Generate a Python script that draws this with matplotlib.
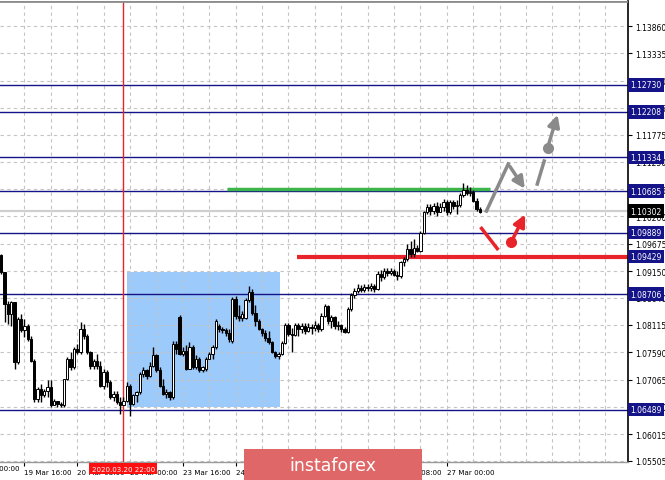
import matplotlib
matplotlib.use("Agg")
import matplotlib.pyplot as plt
import numpy as np

# EURUSD H1, bar 0 = 19 Mar 09:00
opens = [1.0945, 1.0913, 1.0852, 1.0833, 1.0855, 1.0740, 1.0823, 1.0801, 1.0810, 1.0785,
         1.0743, 1.0669, 1.0689, 1.0676, 1.0685, 1.0692, 1.0657, 1.0666, 1.0660, 1.0657,
         1.0708, 1.0746, 1.0730, 1.0765, 1.0759, 1.0804, 1.0791, 1.0759, 1.0733, 1.0743,
         1.0733, 1.0695, 1.0721, 1.0701, 1.0673, 1.0679, 1.0663, 1.0657, 1.0666, 1.0695,
         1.0660, 1.0676, 1.0682, 1.0717, 1.0724, 1.0714, 1.0733, 1.0753, 1.0724, 1.0695,
         1.0679, 1.0682, 1.0673, 1.0775, 1.0826, 1.0756, 1.0762, 1.0727, 1.0769, 1.0730,
         1.0746, 1.0724, 1.0727, 1.0746, 1.0756, 1.0769, 1.0809, 1.0803, 1.0801, 1.0796,
         1.0781, 1.0862, 1.0828, 1.0824, 1.0824, 1.0860, 1.0874, 1.0835, 1.0820, 1.0804,
         1.0796, 1.0786, 1.0778, 1.0760, 1.0751, 1.0756, 1.0777, 1.0812, 1.0794, 1.0792,
         1.0811, 1.0803, 1.0810, 1.0800, 1.0808, 1.0805, 1.0811, 1.0803, 1.0829, 1.0847,
         1.0819, 1.0826, 1.0810, 1.0811, 1.0803, 1.0797, 1.0842, 1.0869, 1.0877, 1.0883,
         1.0879, 1.0885, 1.0882, 1.0887, 1.0880, 1.0909, 1.0903, 1.0915, 1.0911, 1.0915,
         1.0907, 1.0905, 1.0932, 1.0939, 1.0957, 1.0948, 1.0960, 1.0954, 1.0989, 1.1028,
         1.1039, 1.1031, 1.1040, 1.1029, 1.1039, 1.1047, 1.1028, 1.1048, 1.1040, 1.1042,
         1.1061, 1.1071, 1.1065, 1.1067, 1.1050, 1.1035]
highs = [1.0948, 1.0913, 1.0858, 1.0858, 1.0855, 1.0826, 1.0833, 1.0823, 1.0814, 1.0791,
         1.0746, 1.0692, 1.0698, 1.0689, 1.0705, 1.0705, 1.0669, 1.0666, 1.0664, 1.0708,
         1.0749, 1.0759, 1.0769, 1.0775, 1.0817, 1.0814, 1.0794, 1.0762, 1.0746, 1.0756,
         1.0743, 1.0727, 1.0724, 1.0705, 1.0685, 1.0685, 1.0673, 1.0673, 1.0701, 1.0698,
         1.0679, 1.0685, 1.0721, 1.0730, 1.0727, 1.0740, 1.0769, 1.0756, 1.0730, 1.0708,
         1.0689, 1.0685, 1.0781, 1.0780, 1.0830, 1.0769, 1.0772, 1.0778, 1.0772, 1.0753,
         1.0749, 1.0733, 1.0749, 1.0759, 1.0772, 1.0823, 1.0814, 1.0807, 1.0805, 1.0804,
         1.0865, 1.0868, 1.0849, 1.0839, 1.0863, 1.0887, 1.0880, 1.0849, 1.0823, 1.0805,
         1.0801, 1.0799, 1.0781, 1.0762, 1.0760, 1.0780, 1.0815, 1.0815, 1.0805, 1.0815,
         1.0815, 1.0816, 1.0815, 1.0816, 1.0813, 1.0819, 1.0815, 1.0835, 1.0851, 1.0849,
         1.0830, 1.0829, 1.0819, 1.0813, 1.0807, 1.0845, 1.0873, 1.0883, 1.0890, 1.0888,
         1.0890, 1.0890, 1.0892, 1.0890, 1.0915, 1.0917, 1.0920, 1.0920, 1.0921, 1.0919,
         1.0915, 1.0935, 1.0943, 1.0967, 1.0973, 1.0976, 1.0965, 1.0992, 1.1031, 1.1044,
         1.1044, 1.1046, 1.1047, 1.1046, 1.1053, 1.1052, 1.1052, 1.1052, 1.1052, 1.1065,
         1.1085, 1.1080, 1.1076, 1.1071, 1.1055, 1.1039]
lows = [1.0910, 1.0817, 1.0814, 1.0810, 1.0727, 1.0737, 1.0798, 1.0788, 1.0781, 1.0740,
        1.0663, 1.0663, 1.0663, 1.0673, 1.0673, 1.0653, 1.0657, 1.0653, 1.0653, 1.0653,
        1.0705, 1.0724, 1.0727, 1.0756, 1.0756, 1.0785, 1.0756, 1.0727, 1.0727, 1.0727,
        1.0692, 1.0689, 1.0692, 1.0669, 1.0666, 1.0660, 1.0640, 1.0657, 1.0663, 1.0637,
        1.0657, 1.0663, 1.0679, 1.0711, 1.0708, 1.0711, 1.0730, 1.0721, 1.0692, 1.0676,
        1.0671, 1.0668, 1.0669, 1.0756, 1.0753, 1.0751, 1.0724, 1.0726, 1.0727, 1.0727,
        1.0721, 1.0721, 1.0722, 1.0746, 1.0746, 1.0765, 1.0798, 1.0796, 1.0791, 1.0778,
        1.0777, 1.0823, 1.0820, 1.0820, 1.0822, 1.0856, 1.0831, 1.0810, 1.0801, 1.0791,
        1.0781, 1.0775, 1.0758, 1.0748, 1.0746, 1.0753, 1.0775, 1.0790, 1.0759, 1.0790,
        1.0791, 1.0796, 1.0794, 1.0797, 1.0794, 1.0800, 1.0798, 1.0800, 1.0826, 1.0813,
        1.0805, 1.0803, 1.0802, 1.0798, 1.0796, 1.0796, 1.0839, 1.0864, 1.0873, 1.0874,
        1.0875, 1.0877, 1.0877, 1.0875, 1.0879, 1.0896, 1.0899, 1.0906, 1.0907, 1.0905,
        1.0898, 1.0902, 1.0925, 1.0935, 1.0943, 1.0943, 1.0951, 1.0952, 1.0986, 1.1024,
        1.1023, 1.1024, 1.1021, 1.1028, 1.1031, 1.1023, 1.1024, 1.1035, 1.1024, 1.1039,
        1.1058, 1.1061, 1.1060, 1.1047, 1.1031, 1.1026]
closes = [1.0913, 1.0852, 1.0833, 1.0855, 1.0740, 1.0823, 1.0801, 1.0810, 1.0785, 1.0743,
          1.0669, 1.0689, 1.0676, 1.0685, 1.0692, 1.0657, 1.0666, 1.0660, 1.0657, 1.0708,
          1.0746, 1.0730, 1.0765, 1.0759, 1.0804, 1.0791, 1.0759, 1.0733, 1.0743, 1.0733,
          1.0695, 1.0721, 1.0701, 1.0673, 1.0679, 1.0663, 1.0657, 1.0666, 1.0695, 1.0660,
          1.0676, 1.0682, 1.0717, 1.0724, 1.0714, 1.0733, 1.0753, 1.0724, 1.0695, 1.0679,
          1.0682, 1.0673, 1.0775, 1.0765, 1.0756, 1.0762, 1.0727, 1.0769, 1.0730, 1.0746,
          1.0724, 1.0730, 1.0746, 1.0756, 1.0769, 1.0820, 1.0803, 1.0801, 1.0796, 1.0785,
          1.0862, 1.0828, 1.0824, 1.0833, 1.0860, 1.0874, 1.0835, 1.0820, 1.0804, 1.0796,
          1.0786, 1.0778, 1.0760, 1.0751, 1.0756, 1.0777, 1.0812, 1.0794, 1.0792, 1.0812,
          1.0803, 1.0810, 1.0800, 1.0808, 1.0805, 1.0811, 1.0803, 1.0829, 1.0847, 1.0819,
          1.0826, 1.0810, 1.0811, 1.0803, 1.0797, 1.0842, 1.0869, 1.0877, 1.0883, 1.0879,
          1.0885, 1.0882, 1.0887, 1.0880, 1.0909, 1.0903, 1.0915, 1.0911, 1.0915, 1.0907,
          1.0905, 1.0932, 1.0939, 1.0957, 1.0948, 1.0960, 1.0954, 1.0989, 1.1028, 1.1039,
          1.1031, 1.1040, 1.1029, 1.1039, 1.1047, 1.1028, 1.1048, 1.1040, 1.1042, 1.1061,
          1.1071, 1.1065, 1.1067, 1.1050, 1.1035, 1.1029]

levels = [1.12730, 1.12208, 1.11334, 1.10685, 1.09889, 1.08706, 1.06489]
support = 1.09429
resist_green = 1.1072
current = 1.10302

ytick_vals = [1.13860, 1.13335, 1.12810, 1.12285, 1.11775, 1.11250, 1.10725, 1.10200,
              1.09675, 1.09150, 1.08640, 1.08115, 1.07590, 1.07065, 1.06540, 1.06015, 1.05505]
xtick_pos = [7, 23, 39, 55, 71, 87, 103, 119, 135]
xtick_lab = ['19 Mar 16:00', '20 Mar 08:00', '23 Mar 00:00', '23 Mar 16:00',
             '24 Mar 08:00', '25 Mar 00:00', '25 Mar 16:00', '26 Mar 08:00', '27 Mar 00:00']
first_pos, first_lab = -9, '19 Mar 00:00'
cross_bar = 37
cross_label = '2020.03.20 22:00'

# drawings (bar index, price)
box_x = (38.2, 84.5)
box_y = (1.06537, 1.09132)
green_x = (68.5, 148.2)
red_x0 = 89.7
grey_path_x = [147.0, 153.6, 159.1]
grey_path_y = [1.10304, 1.11208, 1.10689]
grey_dash_x = [162.4, 164.5]
grey_dash_y = [1.10823, 1.11265]
grey_dot = (165.5, 1.11515)
grey_tip = (168.8, 1.12207)
red_seg_x = [145.2, 150.6]
red_seg_y = [1.09997, 1.09555]
red_dot = (154.5, 1.09709)
red_tip = (159.1, 1.10285)

navy = '#141488'
red = '#e8242a'
grey = '#8a8a8a'
FS = 5.5
FSX = 5.1
plt.rcParams['font.family'] = ['DejaVu Sans']

fig = plt.figure(figsize=(6.65, 4.81), dpi=100)
ax = fig.add_axes([0.0, 0.0374, 0.9444, 0.9584])

# grid
for v in ytick_vals:
    ax.axhline(v, color='#c4c4c4', lw=0.8, ls=(0, (3, 3)), zorder=0.5)
for b in np.arange(-1, 190, 8):
    ax.axvline(b, color='#c4c4c4', lw=0.8, ls=(0, (3, 3)), zorder=0.5)

ax.fill_between(box_x, box_y[0], box_y[1], color='#9ccafa', lw=0, zorder=0.3)

for lv in levels:
    ax.axhline(lv, color=navy, lw=1.0, zorder=1)
ax.axhline(current, color='#cfcfcf', lw=1.6, zorder=1)
ax.axvline(cross_bar, color=red, lw=1.0, zorder=1.2)
ax.plot([red_x0, 189.9], [support, support], color=red, lw=3, solid_capstyle='butt', zorder=2)
ax.plot(green_x, [resist_green] * 2, color='#3cb54a', lw=2.5, solid_capstyle='butt', zorder=2)

# candles
o = np.array(opens)
h = np.array(highs)
l = np.array(lows)
c = np.array(closes)
idx = np.arange(len(c))
ax.vlines(idx, l, h, color='black', lw=1.0, zorder=3)
bot = np.minimum(o, c)
hgt = np.maximum(np.abs(c - o), 0.00004)
up = c >= o
ax.bar(idx[up], hgt[up], bottom=bot[up], width=0.7, color='white', edgecolor='black', lw=0.7, zorder=4)
ax.bar(idx[~up], hgt[~up], bottom=bot[~up], width=0.7, color='black', edgecolor='black', lw=0.7, zorder=4)

# forecast arrows
ax.plot(red_seg_x, red_seg_y, color=red, lw=2.5, solid_capstyle='butt', zorder=5)
ax.plot(*red_dot, 'o', color=red, ms=7, zorder=5)
ax.annotate('', xy=red_tip, xytext=red_dot,
            arrowprops=dict(arrowstyle='-|>,head_length=0.7,head_width=0.35', color=red, lw=2.5), zorder=5)
ax.plot(grey_path_x[:2], grey_path_y[:2], color=grey, lw=2.5, zorder=5)
ax.annotate('', xy=(grey_path_x[2], grey_path_y[2]), xytext=(grey_path_x[1], grey_path_y[1]),
            arrowprops=dict(arrowstyle='-|>,head_length=0.7,head_width=0.35', color=grey, lw=2.5), zorder=5)
ax.plot(grey_dash_x, grey_dash_y, color=grey, lw=2.5, zorder=5)
ax.plot(*grey_dot, 'o', color=grey, ms=7, zorder=5)
ax.annotate('', xy=grey_tip, xytext=grey_dot,
            arrowprops=dict(arrowstyle='-|>,head_length=0.7,head_width=0.35', color=grey, lw=2.5), zorder=5)

# axes style
for s in ['left', 'top']:
    ax.spines[s].set_visible(False)
ax.spines['right'].set_color('black')
ax.spines['right'].set_linewidth(1.2)
ax.spines['bottom'].set_color('#9a9a9a')
ax.spines['bottom'].set_linewidth(1.0)
ax.axhline(1.14341, color='#8c8c8c', lw=2, zorder=6)

ax.yaxis.tick_right()
ax.set_yticks(ytick_vals)
ax.set_yticklabels([f'{v:.5f}' for v in ytick_vals], fontsize=FS)
ax.tick_params(axis='y', length=3, pad=2, colors='black')
ax.set_xticks(xtick_pos)
ax.set_xticklabels(xtick_lab, fontsize=FSX, ha='left')
ax.tick_params(axis='x', length=3, pad=2)
ax.set_xlim(-0.4, 189.9)
ax.set_ylim(1.0548, 1.14341)
ax.text(first_pos, -0.0075, first_lab, transform=ax.get_xaxis_transform(), fontsize=FSX,
        ha='left', va='top', clip_on=False)

# price labels
for lv in levels + [support]:
    ax.text(1.004, lv, f'{lv:.5f}', transform=ax.get_yaxis_transform(), fontsize=FS, color='white',
            va='center', ha='left', zorder=10, clip_on=False,
            bbox=dict(boxstyle='square,pad=0.3', fc=navy, ec='none'))
ax.text(1.004, current, f'{current:.5f}', transform=ax.get_yaxis_transform(), fontsize=FS, color='white',
        va='center', ha='left', zorder=10, clip_on=False,
        bbox=dict(boxstyle='square,pad=0.3', fc='black', ec='none'))
ax.text(cross_bar, -0.0085, cross_label, transform=ax.get_xaxis_transform(), fontsize=FSX, color='white',
        va='top', ha='center', zorder=10, clip_on=False,
        bbox=dict(boxstyle='square,pad=0.35', fc='#ff1010', ec='none'))

# logo
fig.patches.append(plt.Rectangle((244 / 665, 0), 178 / 665, 31 / 481, transform=fig.transFigure,
                                 fc='#e06767', ec='none', zorder=20))
fig.text(333 / 665, 15 / 481, 'instaforex', color='white', fontsize=12.5, ha='center', va='center', zorder=21)

fig.savefig('out.png', dpi=100)
